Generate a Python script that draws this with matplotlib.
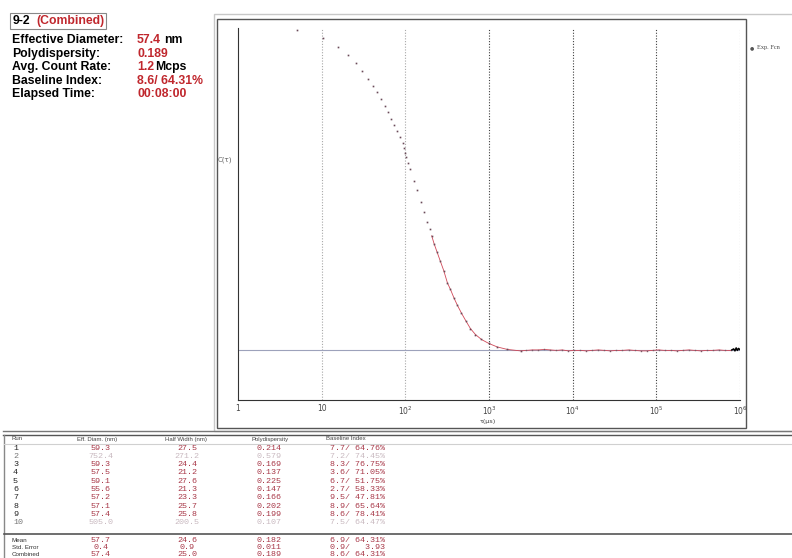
import matplotlib
matplotlib.use("Agg")
import matplotlib.pyplot as plt
from matplotlib.lines import Line2D
from matplotlib.patches import Rectangle

W, H = 792, 558
RED = "#c0272d"
VAL = "#a83848"
DIM = "#c9b9c0"

# correlation function (tau in microseconds)
tau = [5.1, 10.3, 15.5, 20.6, 25.9, 30.5, 36.0, 41.4, 46.2, 51.2, 57.1, 61.4,
       67.4, 73.8, 80.2, 87.1, 92.8, 97.3, 100, 102.8, 107.8, 113.3, 125.7,
       138.1, 152.5, 167.6, 183.4, 195.5, 206.6, 220.8, 239.8, 260.6, 287.6,
       318.6, 346, 383, 419, 469, 527, 600, 689, 813, 995, 1254, 1652, 2384]
corr = [1.645, 1.629, 1.611, 1.595, 1.579, 1.563, 1.547, 1.534, 1.520, 1.506,
        1.493, 1.480, 1.467, 1.455, 1.442, 1.430, 1.418, 1.408, 1.398, 1.389,
        1.378, 1.365, 1.342, 1.323, 1.300, 1.280, 1.259, 1.245, 1.231, 1.215,
        1.198, 1.181, 1.161, 1.136, 1.123, 1.105, 1.091, 1.075, 1.060, 1.044,
        1.032, 1.022, 1.014, 1.007, 1.002, 0.999]

# delayed channels along the baseline
tau_base = [2800, 3300, 3900, 4600, 5400, 6400, 7500, 8900, 10500, 12400,
            14600, 17200, 20300, 24000, 28300, 33400, 39400, 46500, 54900,
            64800, 76500, 90300, 106600, 125800, 148500, 175300, 206900,
            244200, 288200, 340200, 401500, 473900, 559400, 660300, 779300]
corr_base = [1.000, 1.001, 1.001, 1.002, 1.001, 1.000, 1.001, 0.999, 1.000,
             1.000, 0.999, 1.000, 1.001, 1.000, 0.999, 1.000, 1.000, 1.001,
             1.000, 0.999, 0.999, 1.000, 1.001, 1.000, 1.000, 0.999, 1.000,
             1.001, 1.000, 0.999, 1.000, 1.000, 1.001, 1.000, 1.000]
tau_tail = [800000, 840000, 870000, 900000, 930000, 960000, 990000]
corr_tail = [1.001, 1.003, 0.999, 1.005, 1.000, 1.004, 1.002]

baseline = 1.0

# run table
runs = ["1", "2", "3", "4", "5", "6", "7", "8", "9", "10"]
eff_diam = ["59.3", "752.4", "59.3", "57.5", "59.1", "55.6", "57.2", "57.1", "57.4", "505.0"]
half_width = ["27.5", "271.2", "24.4", "21.2", "27.6", "21.3", "23.3", "25.7", "25.8", "200.5"]
poly = ["0.214", "0.579", "0.169", "0.137", "0.225", "0.147", "0.166", "0.202", "0.199", "0.107"]
base_idx = ["7.7/ 64.76%", "7.2/ 74.45%", "8.3/ 76.75%", "3.6/ 71.05%", "6.7/ 51.75%",
            "2.7/ 58.33%", "9.5/ 47.81%", "8.9/ 65.64%", "8.6/ 78.41%", "7.5/ 64.47%"]
excluded = ["2", "10"]
summary_names = ["Mean", "Std. Error", "Combined"]
summary = [["57.7", "24.6", "0.182", "6.9/ 64.31%"],
           ["0.4", "0.9", "0.011", "0.9/   3.93"],
           ["57.4", "25.0", "0.189", "8.6/ 64.31%"]]
headers = ["Run", "Eff. Diam. (nm)", "Half Width (nm)", "Polydispersity", "Baseline Index"]


def fx(x):
    return x / W


def fy(y):
    return 1 - y / H


fig = plt.figure(figsize=(W / 100, H / 100), dpi=100)
fig.patch.set_facecolor("white")


def hline(y, x0, x1, color, lw=0.8):
    fig.add_artist(Line2D([fx(x0), fx(x1)], [fy(y), fy(y)], color=color, lw=lw))


def vline(x, y0, y1, color, lw=0.8):
    fig.add_artist(Line2D([fx(x), fx(x)], [fy(y0), fy(y1)], color=color, lw=lw))


# panel frames
fig.add_artist(Rectangle((fx(214), fy(431)), fx(792 - 214 + 5), (431 - 14) / H,
                         fill=False, ec="#c8c8c8", lw=1.0))
fig.add_artist(Rectangle((fx(217), fy(428)), fx(746 - 217), (428 - 19) / H,
                         fill=False, ec="#555555", lw=1.0))

# main plot
ax = fig.add_axes([fx(238), fy(400), fx(740 - 238), (400 - 28) / H])
ax.set_xscale("log")
ax.set_xlim(1, 1e6)
ax.set_ylim(0.9, 1.65)
for s in ["top", "right"]:
    ax.spines[s].set_visible(False)
ax.spines["left"].set_color("#333333")
ax.spines["bottom"].set_color("#333333")
ax.set_yticks([])
ax.set_xticks([1, 10, 1e2, 1e3, 1e4, 1e5, 1e6])
ax.set_xticklabels(["1", "10", "10$^2$", "10$^3$", "10$^4$", "10$^5$", "10$^6$"])
ax.xaxis.set_minor_locator(matplotlib.ticker.NullLocator())
ax.tick_params(axis="x", length=0, pad=3, labelsize=5.5, labelcolor="#444444")

grid_colors = ["#a8a8a8", "#a8a8a8", "#404040", "#404040", "#404040", "#909090"]
for g, c in zip([10, 1e2, 1e3, 1e4, 1e5, 1e6], grid_colors):
    ax.axvline(g, color=c, ls=(0, (1, 1.5)), lw=0.8)
ax.axhline(baseline, color="#9da2bb", lw=0.8)

dense = [i for i, t in enumerate(tau) if t >= 200]
ax.plot([tau[i] for i in dense] + tau_base, [corr[i] for i in dense] + corr_base,
        color="#d04858", lw=0.6)
ax.plot(tau, corr, ls="none", marker="s", ms=1.2, color="#6a4a58", mew=0,
        clip_on=False)
ax.plot(tau_base, corr_base, ls="none", marker="s", ms=1.0, color="#7a5a66", mew=0)
ax.plot(tau_tail, corr_tail, color="black", lw=1.1)

fig.text(fx(225), fy(160), "C(τ)", fontsize=5, color="#666666", ha="center", va="center")
fig.text(fx(488), fy(421), "τ(μs)", fontsize=4.6, color="#444444", ha="center", va="center")
fig.text(fx(752), fy(48), "●", fontsize=3.5, color="#555555", ha="center", va="center")
fig.text(fx(757), fy(48), "Exp. Fcn", fontsize=4.5, color="#444444", ha="left", va="center",
         family="Liberation Serif")

# info block top left
plt.rcParams["font.family"] = ["Liberation Sans", "DejaVu Sans"]
FS = 8.8
fig.add_artist(Rectangle((fx(10), fy(29)), fx(96), 16.5 / H, fill=False, ec="#888888", lw=0.8))
fig.text(fx(12.5), fy(21), "9-2", fontsize=FS, weight="bold", va="center")
fig.text(fx(36), fy(21), "(Combined)", fontsize=FS, weight="bold", color=RED, va="center")
labels = ["Effective Diameter:", "Polydispersity:", "Avg. Count Rate:", "Baseline Index:",
          "Elapsed Time:"]
values = [("57.4", " nm"), ("0.189", ""), ("1.2", " Mcps"), ("8.6/ 64.31%", ""),
          ("00:08:00", "")]
unit_x = {" nm": 164, " Mcps": 155}
for i, (lab, (v, u)) in enumerate(zip(labels, values)):
    y = 40 + i * 13.6
    fig.text(fx(12), fy(y), lab, fontsize=FS, weight="bold", va="center")
    fig.text(fx(137), fy(y), v, fontsize=FS, weight="bold", color=RED, va="center")
    if u:
        fig.text(fx(unit_x[u]), fy(y), u.strip(), fontsize=FS, weight="bold", va="center")

# table at the bottom
hline(431, 3, 792, "#777777", 1.0)
hline(434.5, 3, 792, "#555555", 1.0)
vline(4, 434.5, 558, "#888888", 1.0)
hline(443.5, 4, 792, "#d0d0d0", 0.8)
hline(533.5, 4, 792, "#555555", 1.2)

col_x = [12, 97, 186, 270, 346]
for j, h in enumerate(headers):
    fig.text(fx(col_x[j]), fy(439), h, fontsize=4.3, color="#444444",
             ha="left" if j == 0 else "center", va="center")

val_x = [101, 187, 269, 358]
mono = "Liberation Mono"
for i, r in enumerate(runs):
    y = 448 + i * 8.3
    col = DIM if r in excluded else VAL
    fig.text(fx(13), fy(y), r, fontsize=6, color="#222222" if r not in excluded else "#777777",
             va="center", family=mono)
    for j, v in enumerate([eff_diam[i], half_width[i], poly[i], base_idx[i]]):
        fig.text(fx(val_x[j]), fy(y), v, fontsize=6, color=col, ha="center", va="center",
                 family=mono)

for i, name in enumerate(summary_names):
    y = 540 + i * 7.4
    fig.text(fx(12), fy(y), name, fontsize=4.5, color="#333333", va="center")
    for j, v in enumerate(summary[i]):
        fig.text(fx(val_x[j]), fy(y), v, fontsize=6, color=VAL, ha="center", va="center",
                 family=mono)

fig.savefig("out.png", dpi=100)
